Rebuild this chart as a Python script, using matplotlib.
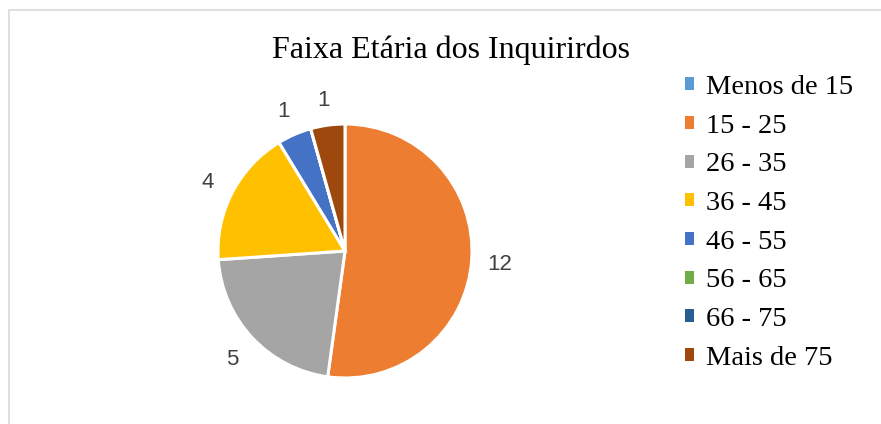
import matplotlib
matplotlib.use("Agg")
import matplotlib.pyplot as plt
import matplotlib.transforms as mtransforms
from matplotlib.patches import Rectangle, Patch

categories = ["Menos de 15", "15 - 25", "26 - 35", "36 - 45", "46 - 55", "56 - 65", "66 - 75", "Mais de 75"]
values = [0, 12, 5, 4, 1, 0, 0, 1]
colors = ["#5B9BD5", "#ED7D31", "#A5A5A5", "#FFC000", "#4472C4", "#70AD47", "#255E91", "#9E480E"]
title = "Faixa Etária dos Inquirirdos"

W, H = 881, 424
fig = plt.figure(figsize=(W / 100, H / 100), dpi=100)
fig.patch.set_facecolor("white")

# outer chart frame
fig.patches.append(Rectangle((9 / W, -0.2), 1.2, (H - 10) / H + 0.2, transform=fig.transFigure,
                             fill=False, edgecolor="#D9D9D9", linewidth=1.2, clip_on=False))

cx, cy, r = 345, 251, 127
half = r * 1.25
ax = fig.add_axes([(cx - half) / W, (H - cy - half) / H, 2 * half / W, 2 * half / H])
labels = [str(v) if v else "" for v in values]
wedges, texts = ax.pie(values, colors=colors, startangle=90, counterclock=False,
                       labels=labels, labeldistance=1.22,
                       wedgeprops=dict(edgecolor="white", linewidth=2.2),
                       textprops=dict(fontsize=16, color="#404040", family="Liberation Sans"))
shift = mtransforms.offset_copy(ax.transData, fig=fig, x=0, y=-3, units="dots")
for t in texts:
    t.set_ha("center")
    t.set_va("center")
    t.set_transform(shift)
ax.set_xlim(-1.25, 1.25)
ax.set_ylim(-1.25, 1.25)
ax.set_aspect("equal")

fig.text(451 / W, 1 - 50 / H, title, ha="center", va="center", fontsize=23,
         family="Liberation Serif", color="black")

handles = [Patch(facecolor=c, edgecolor="none") for c in colors]
fig.legend(handles, categories, loc="upper left", bbox_to_anchor=(685 / W, 1 - 75 / H),
           frameon=False, prop=dict(family="Liberation Serif", size=20.5),
           handlelength=0.33, handleheight=0.33, handletextpad=0.4,
           labelspacing=0.48, borderpad=0, borderaxespad=0)

fig.savefig("out.png", dpi=100)
